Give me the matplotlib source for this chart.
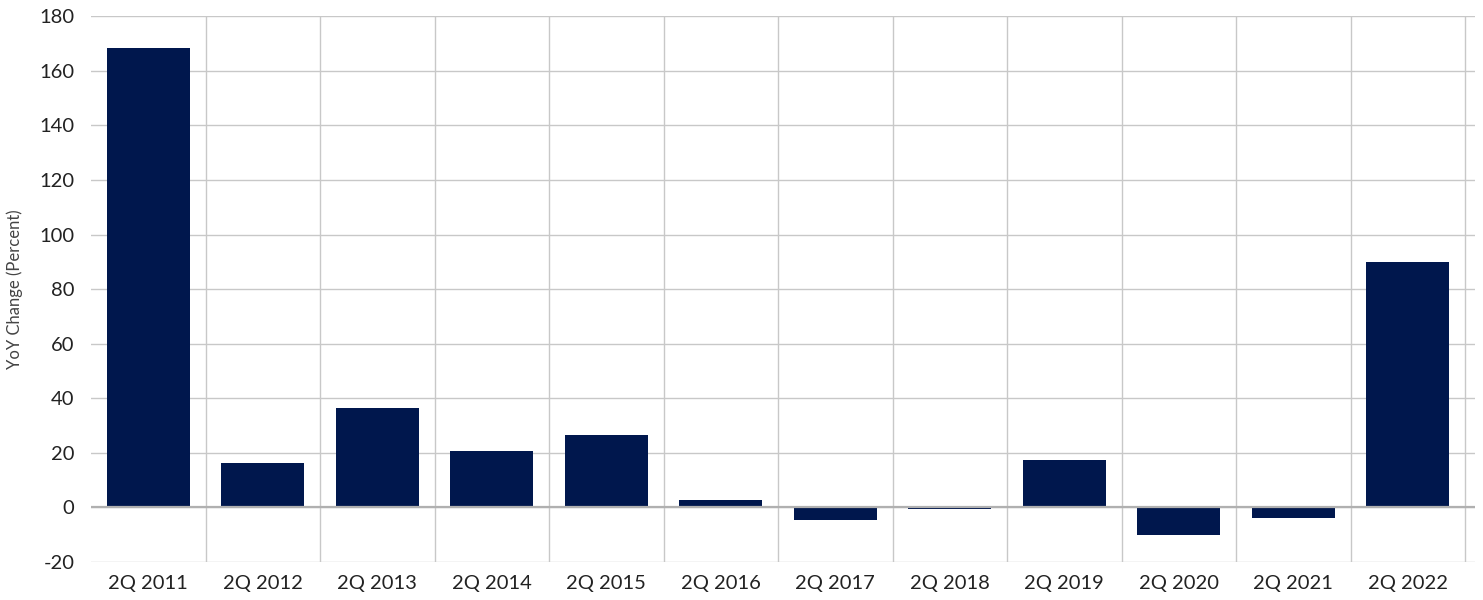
import matplotlib.pyplot as plt
import numpy as np

plt.rcParams["font.family"] = ["Lato", "DejaVu Sans"]
plt.rcParams["axes.unicode_minus"] = False

quarters = ["2Q 2011", "2Q 2012", "2Q 2013", "2Q 2014", "2Q 2015", "2Q 2016",
            "2Q 2017", "2Q 2018", "2Q 2019", "2Q 2020", "2Q 2021", "2Q 2022"]
yoy_change = [168.5, 16.1, 36.3, 20.5, 26.7, 2.8, -4.7, -0.4, 17.2, -10.2, -4.0, 90.1]

fig = plt.figure(figsize=(14.83, 6), dpi=100)
ax = fig.add_axes([0.0614, 0.0633, 0.9332, 0.9097])

x = np.arange(len(quarters))

# horizontal grid
for v in range(-20, 181, 20):
    ax.axhline(v, color="#c8c8c8", lw=1, zorder=0)
ax.axhline(0, color="#b0b0b0", lw=1.6, zorder=3)
# vertical separators between categories
for b in np.arange(0.5, len(quarters), 1.0):
    ax.axvline(b, color="#c8c8c8", lw=1, zorder=0)

ax.bar(x, yoy_change, width=0.725, color="#00174d", zorder=2)

ax.set_xlim(-0.5, len(quarters) - 0.413)
ax.set_ylim(-20, 180)
ax.set_yticks(range(-20, 181, 20))
ax.set_xticks(x)
ax.set_xticklabels(quarters)
ax.tick_params(axis="both", length=0, labelsize=14.5, colors="#222222")
ax.tick_params(axis="y", pad=12)
ax.tick_params(axis="x", pad=9)
for s in ax.spines.values():
    s.set_visible(False)
ax.set_ylabel("YoY Change (Percent)", fontsize=12, color="#444444", labelpad=12)

fig.savefig("out.png", dpi=100)
